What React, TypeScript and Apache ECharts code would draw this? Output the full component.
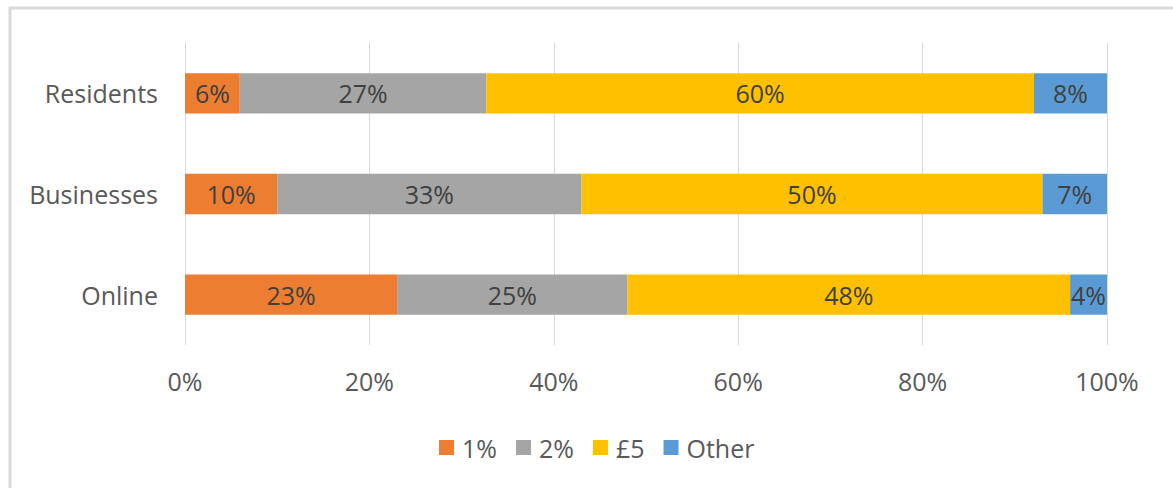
import React, { useEffect, useRef } from "react";
import * as echarts from "echarts";

const categories = ["Online", "Businesses", "Residents"];
const seriesNames = ["1%", "2%", "£5", "Other"];
const values1pct = [23, 10, 6];
const values2pct = [25, 33, 27];
const values5pound = [48, 50, 60];
const valuesOther = [4, 7, 8];
const xTickLabels = ["0%", "20%", "40%", "60%", "80%", "100%"];
const colors = ["#ED7D31", "#A5A5A5", "#FFC000", "#5B9BD5"];

const FONT = "'Open Sans', sans-serif";
const FS = 25;

export default function App() {
  const ref = useRef<HTMLDivElement>(null);
  useEffect(() => {
    if (!ref.current) return;
    const chart = echarts.init(ref.current, undefined, { renderer: "svg" });
    const raw = [values1pct, values2pct, values5pound, valuesOther];
    const totals = categories.map((_, i) => raw.reduce((s, arr) => s + arr[i], 0));
    const series = raw.map((arr, si) => ({
      name: seriesNames[si],
      type: "bar",
      stack: "total",
      barWidth: "40%",
      itemStyle: { color: colors[si] },
      label: {
        show: true,
        position: "inside",
        color: "#404040",
        fontFamily: FONT,
        fontSize: FS,
        formatter: (p: any) => `${arr[p.dataIndex]}%`,
      },
      emphasis: { disabled: true },
      data: arr.map((v, i) => (v / totals[i]) * 100),
    }));
    chart.setOption({
      animation: false,
      textStyle: { fontFamily: FONT },
      graphic: [
        {
          type: "rect",
          shape: { x: 10, y: 8, width: 1250, height: 600 },
          style: { fill: "none", stroke: "#D9D9D9", lineWidth: 3 },
          silent: true,
        },
      ],
      grid: { left: 185, right: 66, top: 43, bottom: 143 },
      legend: {
        data: seriesNames,
        left: 434,
        top: 430,
        itemWidth: 15,
        itemHeight: 15,
        itemGap: 19,
        icon: "rect",
        textStyle: {
          color: "#595959",
          fontFamily: FONT,
          fontSize: FS,
          padding: [0, 0, 0, 3],
        },
      },
      xAxis: {
        type: "value",
        min: 0,
        max: 100,
        interval: 20,
        axisLine: { show: false },
        axisTick: { show: false },
        splitLine: { show: true, lineStyle: { color: "#D9D9D9", width: 1 } },
        axisLabel: {
          color: "#595959",
          fontFamily: FONT,
          fontSize: FS,
          margin: 23,
          formatter: (v: number) => xTickLabels[Math.round(v / 20)],
        },
      },
      yAxis: {
        type: "category",
        data: categories,
        axisLine: { show: false },
        axisTick: { show: false },
        axisLabel: {
          color: "#595959",
          fontFamily: FONT,
          fontSize: FS,
          margin: 27,
        },
      },
      series,
    });
    return () => chart.dispose();
  }, []);
  return (
    <div
      ref={ref}
      style={{ position: "absolute", left: 0, top: 0, width: 1173, height: 488, background: "#fff" }}
    />
  );
}
